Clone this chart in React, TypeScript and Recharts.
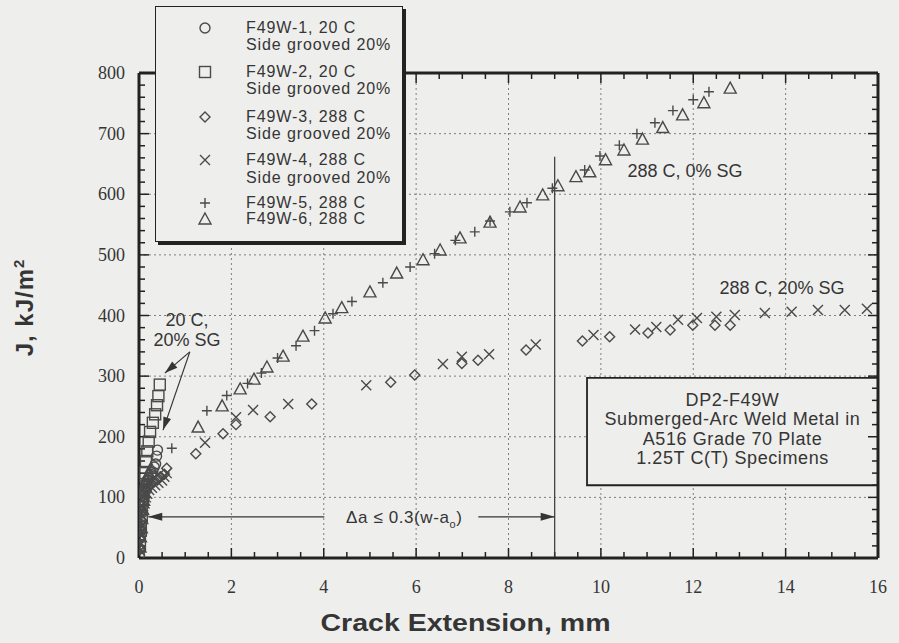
import React from 'react'
import {
  ScatterChart,
  Scatter,
  XAxis,
  YAxis,
  CartesianGrid,
  ReferenceLine,
  ReferenceArea,
  ReferenceDot,
  Legend,
  Label,
} from 'recharts'

// J-R curve data: [crack extension mm, J kJ/m2]
const f49w1: [number, number][] = [
  [0.01, 5], [0.02, 15], [0.03, 35], [0.04, 45], [0.05, 55], [0.07, 75],
  [0.08, 85], [0.09, 95], [0.11, 110], [0.13, 118], [0.15, 122], [0.18, 128],
  [0.22, 132], [0.26, 138], [0.3, 142], [0.33, 150], [0.36, 155], [0.38, 168],
  [0.4, 178],
]
const f49w2: [number, number][] = [
  [0.02, 20], [0.04, 45], [0.06, 70], [0.08, 95], [0.1, 118], [0.12, 140],
  [0.15, 160], [0.18, 176], [0.21, 192], [0.24, 208], [0.3, 223], [0.35, 237],
  [0.39, 252], [0.42, 267], [0.45, 286],
]
const f49w3: [number, number][] = [
  [0.02, 15], [0.03, 30], [0.04, 45], [0.06, 62], [0.08, 78], [0.1, 92],
  [0.12, 100], [0.15, 112], [0.2, 117], [0.25, 122], [0.32, 126], [0.4, 130],
  [0.47, 134], [0.55, 138], [0.6, 148], [1.23, 172], [1.82, 205], [2.1, 220],
  [2.84, 233], [3.74, 254], [5.45, 290], [5.97, 302], [6.99, 321], [7.34, 326],
  [8.38, 343], [9.6, 358], [10.19, 365], [11.02, 371], [11.5, 376], [11.99, 384],
  [12.47, 384], [12.8, 384],
]
const f49w4: [number, number][] = [
  [0.02, 12], [0.03, 25], [0.04, 40], [0.06, 52], [0.08, 68], [0.1, 80],
  [0.12, 90], [0.15, 100], [0.18, 106], [0.22, 112], [0.28, 116], [0.35, 120],
  [0.42, 124], [0.5, 128], [0.55, 134], [0.6, 140], [1.43, 190], [2.1, 232],
  [2.47, 244], [3.23, 254], [4.92, 285], [6.58, 320], [6.99, 332], [7.58, 336],
  [8.59, 352], [9.84, 368], [10.74, 377], [11.2, 381], [11.67, 393], [12.08, 396],
  [12.5, 398], [12.9, 401], [13.55, 404], [14.13, 406], [14.7, 409], [15.28, 409],
  [15.76, 411],
]
const f49w5: [number, number][] = [
  [0.02, 15], [0.03, 30], [0.05, 45], [0.06, 60], [0.08, 75], [0.1, 88],
  [0.12, 100], [0.14, 112], [0.17, 122], [0.2, 130], [0.28, 140], [0.71, 181],
  [1.47, 243], [1.9, 268], [2.35, 288], [2.65, 305], [3.0, 330], [3.4, 350],
  [3.8, 375], [4.2, 403], [4.61, 423], [5.28, 454], [5.87, 480], [6.4, 502],
  [6.85, 524], [7.27, 538], [7.6, 556], [8.03, 571], [8.4, 586], [8.95, 610],
  [9.65, 640], [9.98, 663], [10.4, 681], [10.78, 700], [11.17, 718], [11.56, 738],
  [12.0, 756], [12.34, 769],
]
const f49w6: [number, number][] = [
  [0.02, 18], [0.03, 35], [0.05, 50], [0.06, 65], [0.08, 80], [0.1, 95],
  [0.12, 108], [0.14, 118], [0.17, 128], [0.2, 138], [0.26, 148], [1.28, 216],
  [1.8, 251], [2.19, 279], [2.49, 295], [2.77, 315], [3.12, 333], [3.55, 366],
  [4.03, 396], [4.39, 413], [5.0, 439], [5.58, 470], [6.15, 492], [6.52, 508],
  [6.95, 528], [7.6, 554], [8.25, 579], [8.74, 599], [9.07, 614], [9.46, 629],
  [9.76, 637], [10.1, 657], [10.5, 673], [10.9, 691], [11.34, 710], [11.77, 731],
  [12.23, 751], [12.8, 775],
]

const xTicks = [0, 2, 4, 6, 8, 10, 12, 14, 16]
const yTicks = [0, 100, 200, 300, 400, 500, 600, 700, 800]
const gridX = [2, 4, 6, 8, 10, 12, 14]
const gridY = [100, 200, 300, 400, 500, 600, 700]
const minorX = Array.from({ length: 33 }, (_, i) => i * 0.5)
const minorY = Array.from({ length: 41 }, (_, i) => i * 20)

const infoLines = [
  'DP2-F49W',
  'Submerged-Arc Weld Metal in',
  'A516 Grade 70 Plate',
  '1.25T C(T) Specimens',
]

const BG = '#eeeeec'
const INK = '#353535'
const MARK = '#4a4a4a'
const FRAME = '#222'
const SANS = 'Arial, "Liberation Sans", Helvetica, sans-serif'
const SERIF = '"Liberation Serif", "Times New Roman", serif'

type Kind = 'circle' | 'square' | 'diamond' | 'cross' | 'plus' | 'triangle'

const series: { key: string; kind: Kind; lines: string[]; data: [number, number][] }[] = [
  { key: 'F49W-1', kind: 'circle', lines: ['F49W-1, 20 C', 'Side grooved 20%'], data: f49w1 },
  { key: 'F49W-2', kind: 'square', lines: ['F49W-2, 20 C', 'Side grooved 20%'], data: f49w2 },
  { key: 'F49W-3', kind: 'diamond', lines: ['F49W-3, 288 C', 'Side grooved 20%'], data: f49w3 },
  { key: 'F49W-4', kind: 'cross', lines: ['F49W-4, 288 C', 'Side grooved 20%'], data: f49w4 },
  { key: 'F49W-5', kind: 'plus', lines: ['F49W-5, 288 C'], data: f49w5 },
  { key: 'F49W-6', kind: 'triangle', lines: ['F49W-6, 288 C'], data: f49w6 },
]

function Marker({ kind, cx, cy }: { kind: Kind; cx: number; cy: number }) {
  const s = { fill: 'none', stroke: MARK, strokeWidth: 1.4 }
  switch (kind) {
    case 'circle':
      return <circle cx={cx} cy={cy} r={5} {...s} />
    case 'square':
      return <rect x={cx - 5.5} y={cy - 5.5} width={11} height={11} {...s} />
    case 'diamond':
      return <path d={`M${cx},${cy - 5}L${cx + 5},${cy}L${cx},${cy + 5}L${cx - 5},${cy}Z`} {...s} />
    case 'cross':
      return <path d={`M${cx - 5},${cy - 5}L${cx + 5},${cy + 5}M${cx + 5},${cy - 5}L${cx - 5},${cy + 5}`} {...s} />
    case 'plus':
      return <path d={`M${cx - 5},${cy}H${cx + 5}M${cx},${cy - 5}V${cy + 5}`} {...s} />
    default:
      return <path d={`M${cx},${cy - 6}L${cx + 6},${cy + 5}L${cx - 6},${cy + 5}Z`} {...s} />
  }
}

// axis labels only; the inward tick marks come from the reference lines below
const BottomTick = (p: any) => (
  <text x={p.x} y={p.y + 35} textAnchor="middle" fontFamily={SERIF} fontSize={18} fill={INK}>
    {p.payload.value}
  </text>
)
const LeftTick = (p: any) => (
  <text x={p.x - 14} y={p.y + 6} textAnchor="end" fontFamily={SERIF} fontSize={18} fill={INK}>
    {p.payload.value}
  </text>
)

// inward tick marks drawn as a custom reference-line shape
const XTickMark = (p: any) => {
  const lo = Math.max(p.y1, p.y2)
  const hi = Math.min(p.y1, p.y2)
  const len = p.major ? 10 : 6
  return (
    <g>
      <line x1={p.x1} y1={lo} x2={p.x1} y2={lo - len} stroke={FRAME} strokeWidth={1.5} />
      <line x1={p.x1} y1={hi} x2={p.x1} y2={hi + len} stroke={FRAME} strokeWidth={1.5} />
    </g>
  )
}
const YTickMark = (p: any) => {
  const l = Math.min(p.x1, p.x2)
  const r = Math.max(p.x1, p.x2)
  const len = p.major ? 10 : 6
  return (
    <g>
      <line x1={l} y1={p.y1} x2={l + len} y2={p.y1} stroke={FRAME} strokeWidth={1.5} />
      <line x1={r} y1={p.y1} x2={r - len} y2={p.y1} stroke={FRAME} strokeWidth={1.5} />
    </g>
  )
}

function arrowHead(x: number, y: number, dx: number, dy: number, len = 12, half = 4) {
  const l = Math.hypot(dx, dy) || 1
  const ux = dx / l
  const uy = dy / l
  const bx = x - ux * len
  const by = y - uy * len
  return `M${x},${y}L${bx - uy * half},${by + ux * half}L${bx + uy * half},${by - ux * half}Z`
}

const ArrowLine = (p: any) => (
  <g>
    <line x1={p.x1} y1={p.y1} x2={p.x2} y2={p.y2} stroke={INK} strokeWidth={1.2} />
    <path d={arrowHead(p.x2, p.y2, p.x2 - p.x1, p.y2 - p.y1, 13, 4)} fill={INK} />
  </g>
)

// the "delta a" limit: double arrow with text sitting in a gap of the line
const LimitArrow = (p: any) => {
  const tx = p.x1 + 0.63 * (p.x2 - p.x1)
  return (
    <g>
      <line x1={p.x1} y1={p.y1} x2={tx - 80} y2={p.y1} stroke={INK} strokeWidth={1.2} />
      <line x1={tx + 74} y1={p.y1} x2={p.x2} y2={p.y1} stroke={INK} strokeWidth={1.2} />
      <path d={arrowHead(p.x1, p.y1, -1, 0, 14, 4)} fill={INK} />
      <path d={arrowHead(p.x2, p.y1, 1, 0, 14, 4)} fill={INK} />
      <text x={tx} y={p.y1 + 6} textAnchor="middle" fontFamily={SANS} fontSize={17} letterSpacing={0.6} fill={INK}>
        Δa ≤ 0.3(w-a
        <tspan fontSize={11} dy={5}>o</tspan>
        <tspan dy={-5}>)</tspan>
      </text>
    </g>
  )
}

const noteShape = (lines: string[]) => (p: any) => (
  <text x={p.cx} y={p.cy} textAnchor="middle" fontFamily={SANS} fontSize={18} fill={INK}>
    {lines.map((t, i) => (
      <tspan key={i} x={p.cx} dy={i === 0 ? 6 : 20}>
        {t}
      </tspan>
    ))}
  </text>
)

const InfoText = (p: any) => {
  const vb = p.viewBox
  const cx = vb.x + vb.width / 2
  return (
    <text x={cx} y={vb.y} textAnchor="middle" fontFamily={SANS} fontSize={18} letterSpacing={0.6} fill={INK}>
      {infoLines.map((t, i) => (
        <tspan key={i} x={cx} dy={i === 0 ? 28 : 19.5}>
          {t}
        </tspan>
      ))}
    </text>
  )
}

const rowOffsets = [21, 38, 65, 82, 110, 127, 153, 171, 196, 212]

const LegendBox = () => {
  let row = 0
  return (
    <div
      style={{
        width: 246,
        height: 234,
        background: BG,
        border: `1.5px solid ${FRAME}`,
        boxShadow: `3px 3px 0 ${FRAME}`,
      }}
    >
      <svg width={246} height={234}>
        {series.map((s) => {
          const first = rowOffsets[row]
          const out = (
            <g key={s.key}>
              <Marker kind={s.kind} cx={49} cy={first} />
              {s.lines.map((t, i) => (
                <text
                  key={i}
                  x={90}
                  y={rowOffsets[row + i] + 5}
                  fontFamily={SANS}
                  fontSize={16}
                  letterSpacing={0.9}
                  fill={INK}
                >
                  {t}
                </text>
              ))}
            </g>
          )
          row += s.lines.length
          return out
        })}
      </svg>
    </div>
  )
}

export default function App() {
  return (
    <div style={{ position: 'fixed', top: 0, left: 0, width: 899, height: 643, background: BG }}>
      <ScatterChart width={899} height={643} margin={{ top: 72, right: 20, bottom: 5, left: 59 }}>
        <CartesianGrid
          xAxisId="b"
          yAxisId="l"
          horizontalValues={gridY}
          verticalValues={gridX}
          stroke="#7e7e7e"
          strokeDasharray="2 3"
        />
        <XAxis
          xAxisId="b"
          dataKey="x"
          type="number"
          domain={[0, 16]}
          ticks={xTicks}
          interval={0}
          height={80}
          tickSize={0}
          tickMargin={0}
          tickLine={false}
          tick={<BottomTick />}
          axisLine={{ stroke: FRAME, strokeWidth: 3 }}
          allowDataOverflow
        >
          <Label
            content={(p: any) => (
              <text
                x={p.viewBox.x + p.viewBox.width / 2 - 43}
                y={p.viewBox.y + 73}
                textAnchor="middle"
                fontFamily={SANS}
                fontWeight="bold"
                fontSize={24}
                textLength={290}
                lengthAdjust="spacingAndGlyphs"
                fill={INK}
              >
                Crack Extension, mm
              </text>
            )}
          />
        </XAxis>
        <XAxis
          xAxisId="t"
          orientation="top"
          type="number"
          domain={[0, 16]}
          height={1}
          tick={false}
          tickLine={false}
          axisLine={{ stroke: FRAME, strokeWidth: 3 }}
          allowDataOverflow
        />
        <YAxis
          yAxisId="l"
          dataKey="y"
          type="number"
          domain={[0, 800]}
          ticks={yTicks}
          interval={0}
          width={80}
          tickSize={0}
          tickMargin={0}
          tickLine={false}
          tick={<LeftTick />}
          axisLine={{ stroke: FRAME, strokeWidth: 3 }}
          allowDataOverflow
        >
          <Label
            content={(p: any) => {
              const x = p.viewBox.x - 26
              const y = p.viewBox.y + p.viewBox.height / 2 - 8
              return (
                <text
                  x={x}
                  y={y}
                  transform={`rotate(-90 ${x} ${y})`}
                  textAnchor="middle"
                  fontFamily={SANS}
                  fontWeight="bold"
                  fontSize={24}
                  letterSpacing={1}
                  fill={INK}
                >
                  J, kJ/m<tspan fontSize={15} dy={-9}>2</tspan>
                </text>
              )
            }}
          />
        </YAxis>
        <YAxis
          yAxisId="r"
          orientation="right"
          type="number"
          domain={[0, 800]}
          width={1}
          tick={false}
          tickLine={false}
          axisLine={{ stroke: FRAME, strokeWidth: 3 }}
          allowDataOverflow
        />
        {minorX.map((v) => (
          <ReferenceLine
            key={`tx${v}`}
            xAxisId="b"
            yAxisId="l"
            x={v}
            stroke={FRAME}
            shape={<XTickMark major={xTicks.includes(v)} />}
          />
        ))}
        {minorY.map((v) => (
          <ReferenceLine
            key={`ty${v}`}
            xAxisId="b"
            yAxisId="l"
            y={v}
            stroke={FRAME}
            shape={<YTickMark major={yTicks.includes(v)} />}
          />
        ))}
        <ReferenceLine
          xAxisId="b"
          yAxisId="l"
          segment={[{ x: 9, y: 0 }, { x: 9, y: 662 }]}
          stroke={INK}
          strokeWidth={1.2}
        />
        <ReferenceLine
          xAxisId="b"
          yAxisId="l"
          segment={[{ x: 0.2, y: 68 }, { x: 9, y: 68 }]}
          shape={<LimitArrow />}
        />
        <ReferenceLine
          xAxisId="b"
          yAxisId="l"
          segment={[{ x: 1.1, y: 340 }, { x: 0.56, y: 305 }]}
          shape={<ArrowLine />}
        />
        <ReferenceLine
          xAxisId="b"
          yAxisId="l"
          segment={[{ x: 1.1, y: 340 }, { x: 0.52, y: 211 }]}
          shape={<ArrowLine />}
        />
        <ReferenceArea
          xAxisId="b"
          yAxisId="l"
          x1={9.7}
          x2={16}
          y1={120}
          y2={297}
          fill={BG}
          fillOpacity={1}
          stroke={FRAME}
          strokeWidth={1.8}
          label={(p: any) => <InfoText viewBox={p.viewBox} />}
        />
        <ReferenceDot xAxisId="b" yAxisId="l" x={1.04} y={392} r={0} shape={noteShape(['20 C,', '20% SG'])} />
        <ReferenceDot xAxisId="b" yAxisId="l" x={11.82} y={639} r={0} shape={noteShape(['288 C, 0% SG'])} />
        <ReferenceDot xAxisId="b" yAxisId="l" x={13.92} y={445} r={0} shape={noteShape(['288 C, 20% SG'])} />
        {series.map((s) => (
          <Scatter
            key={s.key}
            name={s.key}
            xAxisId="b"
            yAxisId="l"
            data={s.data.map(([x, y]) => ({ x, y }))}
            shape={(p: any) => <Marker kind={s.kind} cx={p.cx} cy={p.cy} />}
            isAnimationActive={false}
          />
        ))}
        <Legend
          layout="horizontal"
          verticalAlign="middle"
          align="center"
          content={() => <LegendBox />}
          wrapperStyle={{ left: 155, top: 6, width: 250, height: 238 }}
        />
      </ScatterChart>
    </div>
  )
}
